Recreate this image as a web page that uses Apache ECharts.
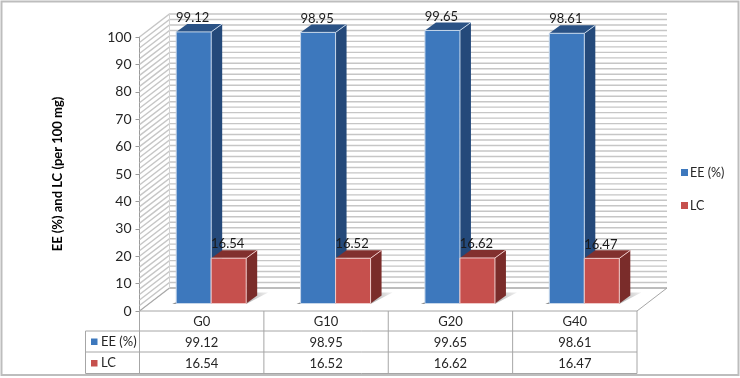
<!DOCTYPE html>
<html><head><meta charset="utf-8">
<style>html,body{margin:0;padding:0;background:#fff}#c{width:740px;height:378px}</style>
<script src="https://cdn.jsdelivr.net/npm/echarts@6/dist/echarts.min.js"></script>
</head><body><div id="c"></div>
<script>
const categories = ['G0','G10','G20','G40'];
const eeValues = [99.12,98.95,99.65,98.61];
const lcValues = [16.54,16.52,16.62,16.47];
const seriesNames = ['EE (%)','LC'];
const yTicks = {min:0,max:100,interval:10,wallStep:2};
const yTitle = 'EE (%) and LC (per 100 mg)';

const FONT='Lato, "Open Sans", sans-serif', TXT='#262626';
const DX=30, DY=23, BW=35, BDX=11, BDY=8, OX=9.5, OY=7.5;
const GRID={left:139.5,top:37,width:497.5,height:274};
const wallData=[];
for(let v=yTicks.min;v<=yTicks.max;v+=yTicks.wallStep) wallData.push([0,v]);

function renderWall(params,api){
  const cs=params.coordSys, v=api.value(1), y=api.coord([0,v])[1];
  const x0=cs.x, x1=cs.x+cs.width;
  return {type:'polyline',silent:true,shape:{points:[[x0,y],[x0+DX,y-DY],[x1+DX,y-DY]]},
    style:{fill:null,stroke:'#c6c6c6',lineWidth:1.4}};
}
function renderFrame(params,api){
  const cs=params.coordSys,x0=cs.x,x1=cs.x+cs.width,yb=cs.y+cs.height,yt=cs.y;
  const line={stroke:'#a6a6a6',lineWidth:1,fill:null};
  return {type:'group',silent:true,children:[
    {type:'polyline',shape:{points:[[x0,yb],[x0+DX,yb-DY],[x1+DX,yb-DY],[x1,yb]]},style:line},
    {type:'line',shape:{x1:x0+DX,y1:yt-DY,x2:x0+DX,y2:yb-DY},style:{stroke:'#d4d4d4',lineWidth:1}}
  ]};
}
function renderTable(params,api){
  const cs=params.coordSys,x0=cs.x,x1=cs.x+cs.width,yb=cs.y+cs.height;
  const rows=[331,352,373.5], left=85.5, st={stroke:'#a6a6a6',lineWidth:1};
  const ch=[];
  const L=(a,b,c,d)=>ch.push({type:'line',shape:{x1:a,y1:b,x2:c,y2:d},style:st});
  L(x0,yb,x1,yb);
  rows.forEach(r=>L(left,r,x1,r));
  L(left,rows[0],left,rows[2]);
  const band=cs.width/categories.length;
  for(let i=0;i<=categories.length;i++) L(x0+band*i,yb,x0+band*i,rows[2]);
  [['#3d78bd',341.5],['#c6504d',363]].forEach((k,i)=>{
    ch.push({type:'rect',shape:{x:91,y:k[1]-3,width:6.5,height:6.5},style:{fill:k[0]}});
    ch.push({type:'text',style:{text:seriesNames[i],x:101,y:k[1],fill:TXT,font:'13px '+FONT,textVerticalAlign:'middle'}});
  });
  return {type:'group',silent:true,children:ch};
}
function renderShadow(params,api){
  const i=api.value(0), c=api.coord([i,0]), base=c[1]-OY, cx=c[0]+OX;
  return {type:'polygon',silent:true,shape:{points:[[cx-BW-4,base+.5],[cx+BW,base+.5],[cx+BW+22,base-11],[cx+BW+BDX,base-11],[cx-BW+10,base-6]]},
    style:{fill:{type:'linear',x:0,y:1,x2:1,y2:0,colorStops:[{offset:0,color:'#8f8f8f'},{offset:.75,color:'#a6a6a6'},{offset:1,color:'rgba(200,200,200,0.3)'}]}}};
}
function barRenderer(side,front,sideCol,topCol,edge){
  return function(params,api){
    const i=api.value(0), v=api.value(1), c=api.coord([i,v]), base=api.coord([i,0])[1]-OY;
    const cx=c[0]+OX, xa=side<0?cx-BW:cx, xb=xa+BW, yt=c[1]-OY;
    return {type:'group',children:[
      {type:'polygon',shape:{points:[[xb,yt],[xb+BDX,yt-BDY],[xb+BDX,base-BDY],[xb,base]]},style:{fill:sideCol}},
      {type:'polygon',shape:{points:[[xa,yt],[xa+BDX,yt-BDY],[xb+BDX,yt-BDY],[xb,yt]]},style:{fill:topCol}},
      {type:'rect',shape:{x:xa,y:yt,width:BW,height:base-yt},style:{fill:front,stroke:edge,lineWidth:1}},
      {type:'line',shape:{x1:xb,y1:yt,x2:xb+BDX,y2:yt-BDY},style:{stroke:edge,lineWidth:1}},
      {type:'text',style:{text:v.toFixed(2),x:(xa+xb)/2-1,y:yt-14,fill:'#1a1a1a',font:'13px '+FONT,textAlign:'center',textVerticalAlign:'middle'}}
    ]};
  };
}
const rowAxis=(labels,offset)=>({type:'category',data:labels,position:'bottom',offset,
  axisLine:{show:false},axisTick:{show:false},splitLine:{show:false},
  axisLabel:{color:TXT,fontFamily:FONT,fontSize:13,margin:4,lineHeight:14}});
const chart=echarts.init(document.getElementById('c'),null,{renderer:'canvas'});
chart.setOption({
  animation:false,backgroundColor:'#fff',
  graphic:[{type:'rect',silent:true,z:-10,shape:{x:1.5,y:1.5,width:737,height:373.5},style:{fill:'#fff',stroke:'#bdbdbd',lineWidth:2}}],
  grid:GRID,
  legend:{data:seriesNames,orient:'vertical',left:676,top:161,itemWidth:7,itemHeight:7,itemGap:20,icon:'rect',
    textStyle:{color:TXT,fontFamily:FONT,fontSize:12.5,padding:[0,0,0,-3]}},
  xAxis:[rowAxis(categories,0),
         rowAxis(eeValues.map(v=>v.toFixed(2)),21),
         rowAxis(lcValues.map(v=>v.toFixed(2)),42)],
  yAxis:{type:'value',min:yTicks.min,max:yTicks.max,interval:yTicks.interval,
    name:yTitle,nameLocation:'middle',nameGap:75,
    nameTextStyle:{color:'#000',fontFamily:FONT,fontSize:13,fontWeight:'bold'},
    axisLine:{show:true,lineStyle:{color:'#9a9a9a'}},axisTick:{show:true,length:4,lineStyle:{color:'#9a9a9a'}},
    axisLabel:{color:TXT,fontFamily:FONT,fontSize:14,margin:8},splitLine:{show:false}},
  series:[
    {type:'custom',name:'wall',data:wallData,renderItem:renderWall,silent:true,z:1},
    {type:'custom',name:'frame',data:[[0,0]],renderItem:renderFrame,silent:true,z:1},
    {type:'custom',name:'table',data:[[0,0]],renderItem:renderTable,silent:true,z:1},
    {type:'custom',name:'shadow',data:categories.map((c,i)=>[i,0]),renderItem:renderShadow,silent:true,z:2},
    {type:'custom',name:seriesNames[0],itemStyle:{color:'#3d78bd'},z:3,data:eeValues.map((v,i)=>[i,v]),
      renderItem:barRenderer(-1,'#3d78bd','#24497a','#2a5285','#c5d6ea')},
    {type:'custom',name:seriesNames[1],itemStyle:{color:'#c6504d'},z:4,data:lcValues.map((v,i)=>[i,v]),
      renderItem:barRenderer(1,'#c6504d','#7a2c2a','#82302e','#efc9c8')}
  ]
});
</script></body></html>
